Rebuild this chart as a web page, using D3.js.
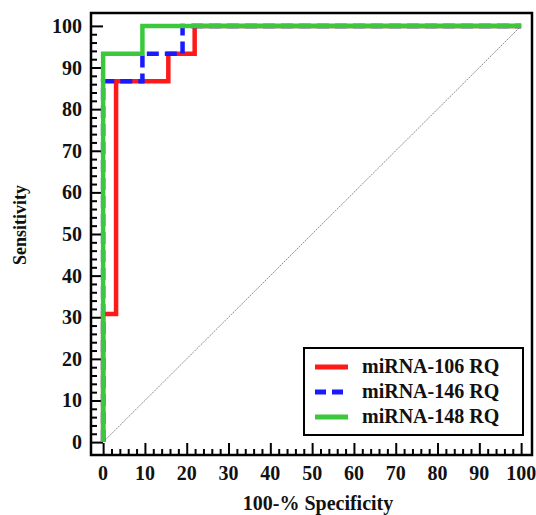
<!DOCTYPE html>
<html>
<head>
<meta charset="utf-8">
<script src="https://cdn.jsdelivr.net/npm/d3@7"></script>
<style>
	body { margin: 0; background: #fff; }
	text { font-family: "Liberation Serif", "Times New Roman", serif; font-weight: bold; fill: #111; }
</style>
</head>
<body>
<svg width="536" height="515"></svg>
<script>
// ROC points, x = 100-% specificity, y = sensitivity
var series_names = ['miRNA-106 RQ', 'miRNA-146 RQ', 'miRNA-148 RQ'];
var series_colors = ['#ff1a1a', '#1a1aff', '#3cc83c'];
var fpr_106 = [0, 0, 3.1, 3.1, 15.6, 15.6, 21.9, 21.9, 100];
var sens_106 = [0, 30.8, 30.8, 86.7, 86.7, 93.3, 93.3, 100, 100];
var fpr_146 = [0, 0, 9.4, 9.4, 19.0, 19.0, 100];
var sens_146 = [0, 86.7, 86.7, 93.3, 93.3, 100, 100];
var fpr_148 = [0, 0, 9.4, 9.4, 100];
var sens_148 = [0, 93.3, 93.3, 100, 100];
var tick_values = [0, 10, 20, 30, 40, 50, 60, 70, 80, 90, 100];

var svg = d3.select('svg');

// frame box in pixels
var box = {left: 91, top: 13, right: 532, bottom: 455};

var x = d3.scaleLinear().domain([-2.9, 102.6]).range([box.left, box.right]);
var y = d3.scaleLinear().domain([-3.1, 103.1]).range([box.bottom, box.top]);

var minor = d3.range(0, 101, 2).filter(function(v){ return v % 10 != 0; });

// ticks pointing inward, no domain line (the frame draws it)
function tickLines(g){
	g.select('.domain').remove();
	g.selectAll('.tick line').attr('stroke', '#000').attr('stroke-width', 2);
}

// x axis
svg.append('g')
	.attr('transform', 'translate(0,' + box.bottom + ')')
	.call(d3.axisTop(x).tickValues(minor).tickSize(6).tickFormat(''))
	.call(tickLines);

svg.append('g')
	.attr('transform', 'translate(0,' + box.bottom + ')')
	.call(d3.axisTop(x).tickValues(tick_values).tickSize(12).tickFormat(''))
	.call(tickLines);

svg.append('g').selectAll('text')
	.data(tick_values)
	.enter().append('text')
		.attr('x', function(d){ return x(d); })
		.attr('y', 480)
		.attr('text-anchor', 'middle')
		.attr('font-size', 20)
		.text(function(d){ return d; });

// y axis
svg.append('g')
	.attr('transform', 'translate(' + box.left + ',0)')
	.call(d3.axisRight(y).tickValues(minor).tickSize(6).tickFormat(''))
	.call(tickLines);

svg.append('g')
	.attr('transform', 'translate(' + box.left + ',0)')
	.call(d3.axisRight(y).tickValues(tick_values).tickSize(12).tickFormat(''))
	.call(tickLines);

svg.append('g').selectAll('text')
	.data(tick_values)
	.enter().append('text')
		.attr('x', 82)
		.attr('y', function(d){ return y(d) + 7; })
		.attr('text-anchor', 'end')
		.attr('font-size', 20)
		.text(function(d){ return d; });

// axis titles
svg.append('text')
	.attr('x', 318)
	.attr('y', 510)
	.attr('text-anchor', 'middle')
	.attr('font-size', 20)
	.text('100-% Specificity');

svg.append('text')
	.attr('transform', 'translate(26,225) rotate(-90)')
	.attr('text-anchor', 'middle')
	.attr('font-size', 18)
	.text('Sensitivity');

// reference diagonal
svg.append('line')
	.attr('x1', x(0)).attr('y1', y(0))
	.attr('x2', x(100)).attr('y2', y(100))
	.attr('stroke', '#8a8a8a')
	.attr('stroke-width', 1)
	.attr('stroke-dasharray', '2,1');

var line = d3.line()
	.x(function(d){ return x(d[0]); })
	.y(function(d){ return y(d[1]); });

var curves = [
	{xs: fpr_106, ys: sens_106, dash: null},
	{xs: fpr_146, ys: sens_146, dash: '12,6'},
	{xs: fpr_148, ys: sens_148, dash: null}
];

curves.forEach(function(c, i){
	svg.append('path')
		.datum(d3.zip(c.xs, c.ys))
		.attr('d', line)
		.attr('fill', 'none')
		.attr('stroke', series_colors[i])
		.attr('stroke-width', 4.5)
		.attr('stroke-dasharray', c.dash);
});

// frame
svg.append('rect')
	.attr('x', box.left).attr('y', box.top)
	.attr('width', box.right - box.left)
	.attr('height', box.bottom - box.top)
	.attr('fill', 'none')
	.attr('stroke', '#000')
	.attr('stroke-width', 2.5);

// legend
var legend = svg.append('g').attr('transform', 'translate(304,348)');

legend.append('rect')
	.attr('width', 219).attr('height', 87)
	.attr('fill', '#fff')
	.attr('stroke', '#000')
	.attr('stroke-width', 2);

series_names.forEach(function(name, i){
	var ly = 19 + i * 25;
	legend.append('line')
		.attr('x1', 11).attr('x2', 44)
		.attr('y1', ly).attr('y2', ly)
		.attr('stroke', series_colors[i])
		.attr('stroke-width', 5)
		.attr('stroke-dasharray', i == 1 ? '11,6' : null);
	legend.append('text')
		.attr('x', 58)
		.attr('y', ly + 6)
		.attr('font-size', 20)
		.text(name);
});
</script>
</body>
</html>
